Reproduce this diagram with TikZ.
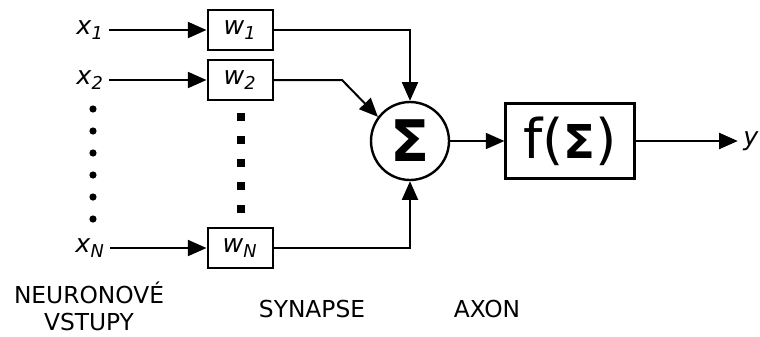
\documentclass[tikz,border=0pt]{standalone}
\usepackage{fontspec}
\setmainfont{DejaVu Sans}
\usepackage{tikz}
\usetikzlibrary{arrows.meta, positioning, calc}
\definecolor{neuroink}{HTML}{000000}

\begin{document}
\begin{tikzpicture}[x=0.75pt, y=-0.75pt, >={Triangle[length=14pt,width=12pt]},
    wbox/.style={draw=neuroink, line width=1.5pt, minimum width=48.75pt, minimum height=30pt, inner sep=0pt, font=\fontsize{19}{20}\selectfont},
    inlabel/.style={inner sep=4pt, font=\fontsize{19}{20}\selectfont},
    link/.style={->, draw=neuroink, line width=1.5pt},
    caption/.style={align=center, font=\fontsize{17.5}{20.25}\selectfont}]
        \useasboundingbox (0,0) rectangle (760,336);

        % vstupy a vahy
        \node[inlabel] (x1) at (90,30) {\textit{x}\textsubscript{\textit{1}}};
        \node[inlabel] (x2) at (90,80) {\textit{x}\textsubscript{\textit{2}}};
        \node[inlabel] (xN) at (90,248) {\textit{x}\textsubscript{\textit{N}}};
        \node[wbox] (w1) at (240,30) {\textit{w}\textsubscript{\textit{1}}};
        \node[wbox] (w2) at (240,80) {\textit{w}\textsubscript{\textit{2}}};
        \node[wbox] (wN) at (240,248) {\textit{w}\textsubscript{\textit{N}}};

        % soucet a aktivace
        \node[circle, draw=neuroink, line width=1.8pt, minimum size=58.5pt, inner sep=0pt, font=\fontsize{43}{43}\selectfont\bfseries] (sig) at (410,141) {Σ};
        \node[draw=neuroink, line width=1.6pt, minimum width=96.75pt, minimum height=56.25pt, inner sep=0pt, font=\fontsize{41}{41}\selectfont] (act) at (570,141) {f({\fontsize{35}{35}\selectfont\bfseries Σ})};
        \node[inlabel] (y) at (751,141) {\textit{y}};
        \coordinate (b2) at (342,80);

        \foreach \k in {0,...,5}
            \fill[neuroink] (93,109+22*\k) circle (2.7pt);
        \foreach \k in {0,...,4}
            \fill[neuroink] (241,117+23*\k) +(-2.9pt,-2.9pt) rectangle +(2.9pt,2.9pt);

        \draw[link] (x1) -- (w1);
        \draw[link] (x2) -- (w2);
        \draw[link] (xN) -- (wN);
        \draw[link] (w1) -| (sig);
        \draw[link] (w2.east) -- (b2) -- (sig.143);
        \draw[link] (wN) -| (sig);
        \draw[link] (sig) -- (act);
        \draw[link] (act) -- (y);

        % popisky
        \node[caption] (inputs) at (89,306) {NEURONOVÉ\\VSTUPY};
        \node[caption] (synapse) at (312,309) {SYNAPSE};
        \node[caption] (axon) at (487,309) {AXON};
    \end{tikzpicture}
\end{document}
